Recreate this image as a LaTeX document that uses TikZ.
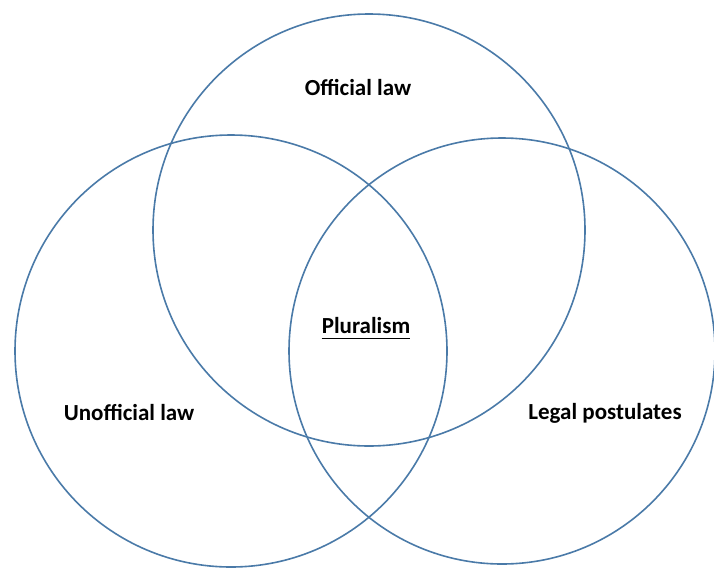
\documentclass[tikz,border=0pt]{standalone}
\usepackage{fontspec}
\setmainfont{Carlito}
\usepackage{tikz}
\usetikzlibrary{positioning}

\definecolor{ringblue}{RGB}{74,122,168}

\begin{document}
\begin{tikzpicture}[x=1pt,y=-1pt]

% ---- Styles ----
\tikzset{
  ring/.style={draw=ringblue, line width=1.6pt},
  lbl/.style={font=\fontsize{23}{27}\selectfont\bfseries, inner sep=0pt},
}

\useasboundingbox (0,0) rectangle (714,568);

% --- The three sets ---
\draw[ring] (369,230) circle (216pt);
\draw[ring] (231,351) circle (216pt);
\draw[ring] (502,351) circle (213pt);

% --- Labels ---
\node[lbl] (official) at (358,87) {Official law};
\node[lbl] (unofficial) at (129,412) {Unofficial law};
\node[lbl] (postulates) at (605,413) {Legal postulates};
\node[lbl] (plural) at (366,326) {Pluralism};

% --- Underline of the centre label ---
\draw[line width=1.5pt] ([yshift=-4pt]plural.south west) -- ([yshift=-4pt]plural.south east);

\end{tikzpicture}
\end{document}
